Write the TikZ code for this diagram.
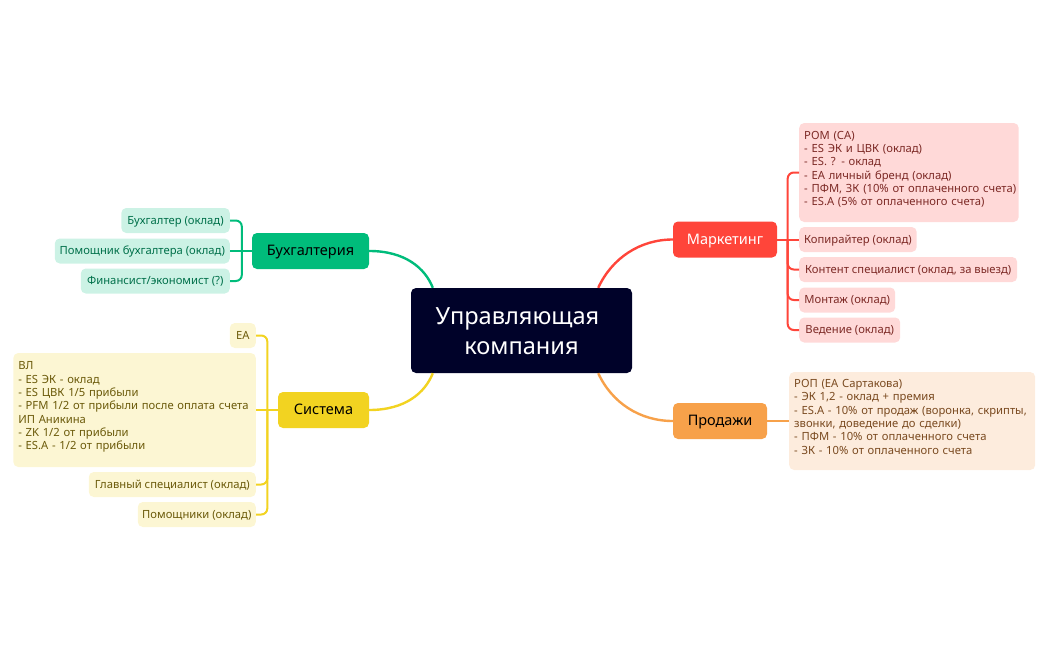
\documentclass[tikz,border=0pt]{standalone}
\usepackage{fontspec}
\setmainfont{Noto Sans}
\usetikzlibrary{calc}
\definecolor{gM}{HTML}{00BC7B}\definecolor{gL}{HTML}{CCF2E5}\definecolor{gT}{HTML}{00704A}
\definecolor{yM}{HTML}{F2D321}\definecolor{yL}{HTML}{FCF6D3}\definecolor{yT}{HTML}{6B5A0A}
\definecolor{rM}{HTML}{FF453A}\definecolor{rL}{HTML}{FFD9D8}\definecolor{rT}{HTML}{7D2A26}
\definecolor{oM}{HTML}{F7A14A}\definecolor{oL}{HTML}{FDECDD}\definecolor{oT}{HTML}{7A4A20}
\definecolor{navy}{HTML}{000229}
\tikzset{
  basebox/.style={rectangle,rounded corners=5pt,inner sep=0pt,draw=none},
  rootbox/.style={basebox,fill=navy,text=white,align=center,font=\fontsize{23.6}{30}\selectfont,minimum width=221pt,minimum height=85pt},
  branchbox/.style={basebox,font=\fontsize{14.5}{17}\selectfont,minimum height=36pt,text height=13pt,text depth=3.5pt},
  kid/.style={basebox,font=\fontsize{11.25}{13.3}\selectfont,minimum height=25pt,text height=10.4pt,text depth=3pt},
  note/.style={basebox,font=\fontsize{11.25}{13.3}\selectfont,align=left,inner xsep=5pt},
  link/.style={line width=2pt,rounded corners=6pt},
  curve/.style={line width=2.4pt}
}
\begin{document}
\begin{tikzpicture}[x=1pt,y=-1pt]
\useasboundingbox (0,0) rectangle (1048,650);
\node[rootbox] (root) at (521.5,330.5) {\rule{0pt}{19pt}Управляющая\hspace*{8pt}\\компания};
% Accounting
\node[branchbox,fill=gM,text=black,minimum width=117pt] (acc) at (310.5,251) {Бухгалтерия};
\node[kid,fill=gL,text=gT,anchor=east,minimum width=108.5pt] (acc1) at (230,220.5) {Бухгалтер (оклад)};
\node[kid,fill=gL,text=gT,anchor=east,minimum width=175pt] (acc2) at (230,251) {Помощник бухгалтера (оклад)};
\node[kid,fill=gL,text=gT,anchor=east,minimum width=149pt] (acc3) at (230,281) {Финансист/экономист (?)};
% System
\node[branchbox,fill=yM,text=black,minimum width=91pt] (sys) at (323.5,410) {Система};
\node[kid,fill=yL,text=yT,anchor=east,minimum width=26pt] (sys1) at (256,335.5) {ЕА};
\node[note,fill=yL,text=yT,anchor=east,text width=232.5pt,minimum height=114pt] (sys2) at (256,410) {ВЛ\\- ES ЭК - оклад\\- ES ЦВК 1/5 прибыли\\- PFM 1/2 от прибыли после оплата счета\\ИП Аникина\\- ZK 1/2 от прибыли\\- ES.A - 1/2 от прибыли\\[-5pt]\mbox{}};
\node[kid,fill=yL,text=yT,anchor=east,minimum width=167pt] (sys3) at (256,484.5) {Главный специалист (оклад)};
\node[kid,fill=yL,text=yT,anchor=east,minimum width=118pt] (sys4) at (256,514.5) {Помощники (оклад)};
% Marketing
\node[branchbox,fill=rM,text=white,minimum width=104pt] (mar) at (725,239.5) {Маркетинг};
\node[note,fill=rL,text=rT,anchor=west,text width=209.5pt,minimum height=99pt] (mar1) at (799,172.5) {РОМ (СА)\\- ES ЭК и ЦВК (оклад)\\- ES. ? - оклад\\- ЕА личный бренд (оклад)\\\mbox{- ПФМ, ЗК (10\% от оплаченного счета)}\\- ES.A (5\% от оплаченного счета)\\[-5pt]\mbox{}};
\node[kid,fill=rL,text=rT,anchor=west,minimum width=117.5pt] (mar2) at (799,239.5) {Копирайтер (оклад)};
\node[kid,fill=rL,text=rT,anchor=west,minimum width=218pt] (mar3) at (799,269.5) {Контент специалист (оклад, за выезд)};
\node[kid,fill=rL,text=rT,anchor=west,minimum width=96pt] (mar4) at (799,300) {Монтаж (оклад)};
\node[kid,fill=rL,text=rT,anchor=west,minimum width=101pt] (mar5) at (799,330) {Ведение (оклад)};
% Sales
\node[branchbox,fill=oM,text=black,minimum width=94pt] (sal) at (720,421) {Продажи};
\node[note,fill=oL,text=oT,anchor=west,text width=236pt,minimum height=98pt] (sal1) at (789,421) {РОП (ЕА Сартакова)\\- ЭК 1,2 - оклад + премия\\- ES.A - 10\% от продаж (воронка, скрипты,\\звонки, доведение до сделки)\\- ПФМ - 10\% от оплаченного счета\\- ЗК - 10\% от оплаченного счета\\[-5pt]\mbox{}};
% Root connectors
\draw[curve,gM] (acc.east) .. controls (405,251) and (425,268) .. ([xshift=22pt]root.north west);
\draw[curve,yM] (sys.east) .. controls (405,410) and (425,393) .. ([xshift=22pt]root.south west);
\draw[curve,rM] (mar.west) .. controls (640,239.5) and (612,258) .. ([xshift=-34pt]root.north east);
\draw[curve,oM] (sal.west) .. controls (640,421) and (612,403) .. ([xshift=-34pt]root.south east);
% Child connectors
\draw[link,gM] (acc1.east) -| ([xshift=-10pt]acc.west) |- (acc3.east);
\draw[link,gM] (acc.west) -- (acc2.east);
\draw[link,yM] (sys1.east) -| ([xshift=-10.5pt]sys.west) |- (sys4.east);
\draw[link,yM] (sys3.east) -| ([xshift=-10.5pt]sys.west);
\draw[link,yM] (sys.west) -- (sys2.east);
\draw[link,rM] (mar1.west) -| ([xshift=10.5pt]mar.east) |- (mar5.west);
\draw[link,rM] (mar3.west) -| ([xshift=10.5pt]mar.east);
\draw[link,rM] (mar4.west) -| ([xshift=10.5pt]mar.east);
\draw[link,rM] (mar.east) -- (mar2.west);
\draw[link,oM] (sal.east) -- (sal1.west);
\end{tikzpicture}
\end{document}
